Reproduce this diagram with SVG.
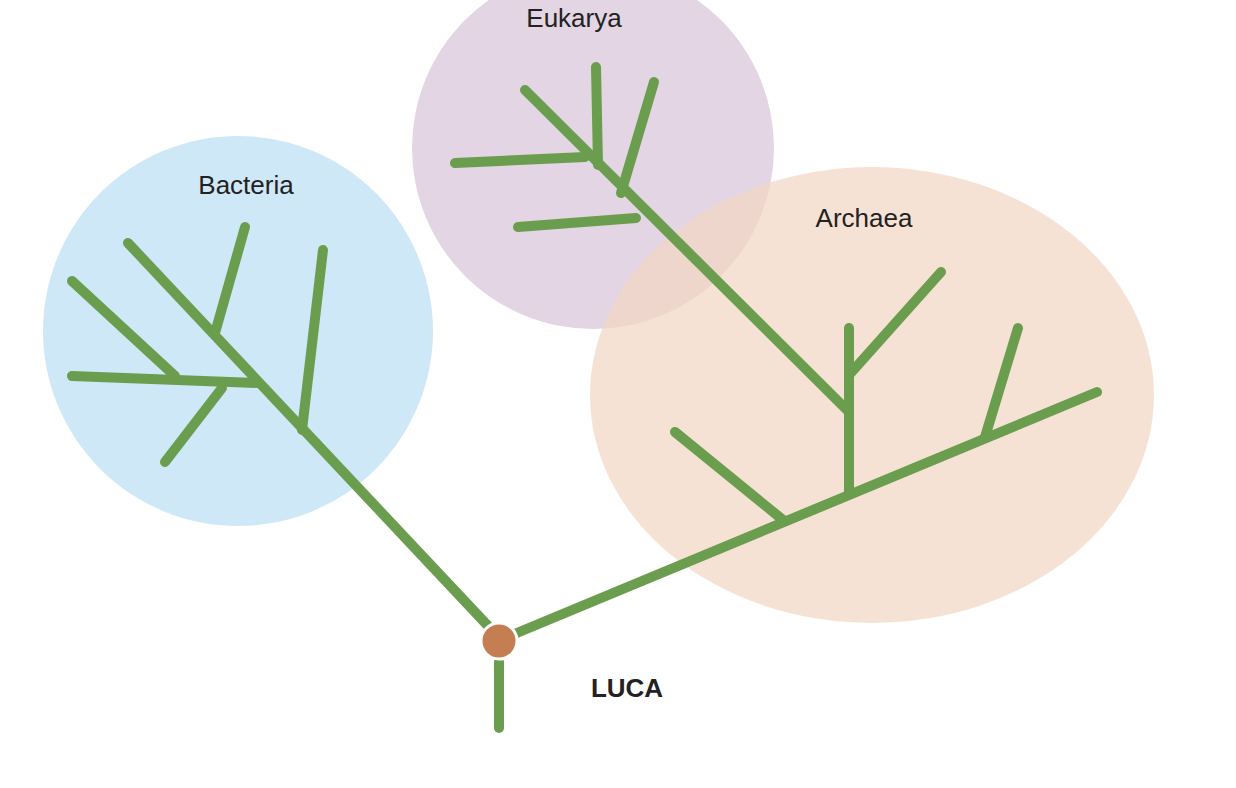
<svg xmlns="http://www.w3.org/2000/svg" width="1236" height="788" viewBox="0 0 1236 788">
<style>
.br{stroke:#6a9e4e;stroke-width:10;stroke-linecap:round;fill:none}
.lb{font-family:"Liberation Sans",Arial,sans-serif;font-size:26px;fill:#222;text-anchor:middle}
</style>
<rect width="1236" height="788" fill="#fff"/>
<g id="bacteria"><circle cx="238" cy="331" r="195" fill="#cfe8f8"/><text class="lb" x="246" y="194">Bacteria</text></g>
<g id="eukarya"><circle cx="593" cy="148" r="181" fill="#e3d5e3"/><text class="lb" x="574" y="27">Eukarya</text></g>
<g id="archaea"><ellipse cx="872" cy="395" rx="282" ry="228" fill="#f2d6c3" fill-opacity="0.7"/><text class="lb" x="864" y="227">Archaea</text></g>
<g id="connectors" class="br">
<path d="M490,628 L128,243"/>
<path d="M302,430 L323,250"/>
<path d="M72,376 L258,383"/>
<path d="M222,388 L165,462"/>
<path d="M175,376 L72,281"/>
<path d="M215,333 L245,227"/>
<path d="M512,635 L1097,392"/>
<path d="M783,520 L675,432"/>
<path d="M849,492 L849,328"/>
<path d="M849,375 L941,272"/>
<path d="M985,437 L1018,328"/>
<path d="M849,412 L525,90"/>
<path d="M636,218 L518,227"/>
<path d="M621,193 L654,82"/>
<path d="M598,165 L596,67"/>
<path d="M585,157 L455,163"/>
<path d="M499,662 L499,728"/>
</g>
<g id="luca"><circle cx="499" cy="641" r="18" fill="#c47e52" stroke="#fff" stroke-width="3"/><text class="lb" x="627" y="697" font-weight="bold">LUCA</text></g>
</svg>
